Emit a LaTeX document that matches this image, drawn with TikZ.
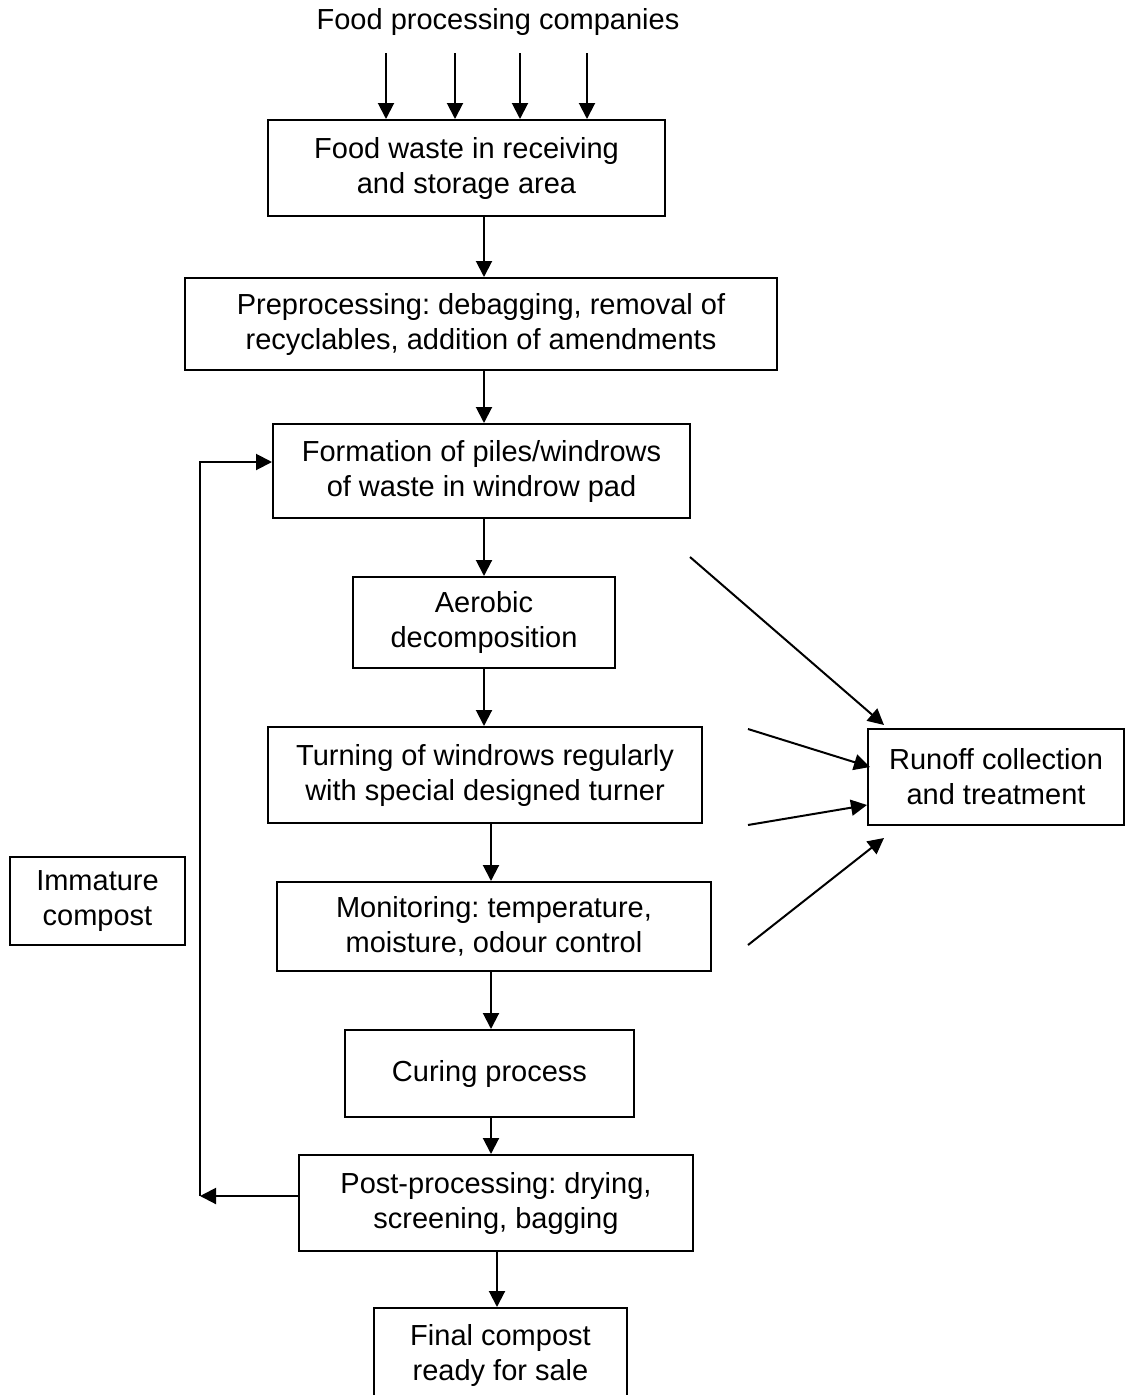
\documentclass[tikz,border=0pt]{standalone}
\usepackage{fontspec}
\setmainfont{Liberation Sans}
\usetikzlibrary{arrows.meta}
\frenchspacing
\begin{document}
\begin{tikzpicture}[x=1pt,y=-1pt,
  every node/.style={font=\fontsize{29}{35}\selectfont},
  box/.style={draw,line width=2pt,align=center,inner sep=0pt},
  arr/.style={line width=2pt,-{Triangle[length=16pt,width=16pt]}},
  ln/.style={line width=2pt}]
\clip (0,0) rectangle (1125,1395);
\fill[white] (0,0) rectangle (1125,1395);
% title
\node (title) at (498,22) {Food processing companies};
% boxes
\node[box,minimum width=397pt,minimum height=96pt] (food) at (466.5,168) {Food waste in receiving\\and storage area};
\node[box,minimum width=592pt,minimum height=92pt] (pre) at (481,324) {Preprocessing: debagging, removal of\\recyclables, addition of amendments};
\node[box,minimum width=417pt,minimum height=94pt] (form) at (481.5,471) {Formation of piles/windrows\\of waste in windrow pad};
\node[box,minimum width=262pt,minimum height=91pt] (aer) at (484,622.5) {Aerobic\\decomposition};
\node[box,minimum width=434pt,minimum height=96pt] (turn) at (485,775) {Turning of windrows regularly\\with special designed turner};
\node[box,minimum width=434pt,minimum height=89pt] (mon) at (494,926.5) {Monitoring: temperature,\\moisture, odour control};
\node[box,minimum width=289pt,minimum height=87pt] (cur) at (489.5,1073.5) {Curing process};
\node[box,minimum width=394pt,minimum height=96pt] (post) at (496,1203) {Post-processing: drying,\\screening, bagging};
\node[box,minimum width=253pt,minimum height=94pt] (final) at (500.5,1355) {Final compost\\ready for sale};
\node[box,minimum width=256pt,minimum height=96pt] (runoff) at (996,777) {Runoff collection\\and treatment};
\node[box,minimum width=175pt,minimum height=88pt] (imm) at (97.5,901) {Immature\\compost};
% top arrows
\coordinate (s1) at (386,53);
\coordinate (s2) at (455,53);
\coordinate (s3) at (520,53);
\coordinate (s4) at (587,53);
\draw[arr] (s1) -- ([xshift=-80.5pt]food.north);
\draw[arr] (s2) -- ([xshift=-11.5pt]food.north);
\draw[arr] (s3) -- ([xshift=53.5pt]food.north);
\draw[arr] (s4) -- ([xshift=120.5pt]food.north);
% main chain
\draw[arr] ([xshift=17.5pt]food.south) -- ([xshift=3pt]pre.north);
\draw[arr] ([xshift=3pt]pre.south) -- ([xshift=2.5pt]form.north);
\draw[arr] ([xshift=2.5pt]form.south) -- (aer.north);
\draw[arr] (aer.south) -- ([xshift=-1pt]turn.north);
\draw[arr] ([xshift=6pt]turn.south) -- ([xshift=-3pt]mon.north);
\draw[arr] ([xshift=-3pt]mon.south) -- ([xshift=1.5pt]cur.north);
\draw[arr] ([xshift=1.5pt]cur.south) -- ([xshift=-5pt]post.north);
\draw[arr] ([xshift=1pt]post.south) -- ([xshift=-3.5pt]final.north);
% loop back
\coordinate (lb) at (200,1196);
\coordinate (lt) at (200,462);
\draw[arr] ([yshift=7pt]post.west) -- (lb);
\draw[arr] (lb) -- (lt) -- ([yshift=9pt]form.west);
% runoff arrows
\coordinate (r1) at (690,557);
\coordinate (r2) at (748,729);
\coordinate (r3) at (748,825);
\coordinate (r4) at (748,945);
\draw[arr] (r1) -- ([xshift=17pt,yshift=3pt]runoff.north west);
\draw[arr] (r2) -- ([xshift=3pt,yshift=10pt]runoff.west);
\draw[arr] (r3) -- ([yshift=-28pt]runoff.west);
\draw[arr] (r4) -- ([xshift=17pt,yshift=-12pt]runoff.south west);
\end{tikzpicture}
\end{document}
